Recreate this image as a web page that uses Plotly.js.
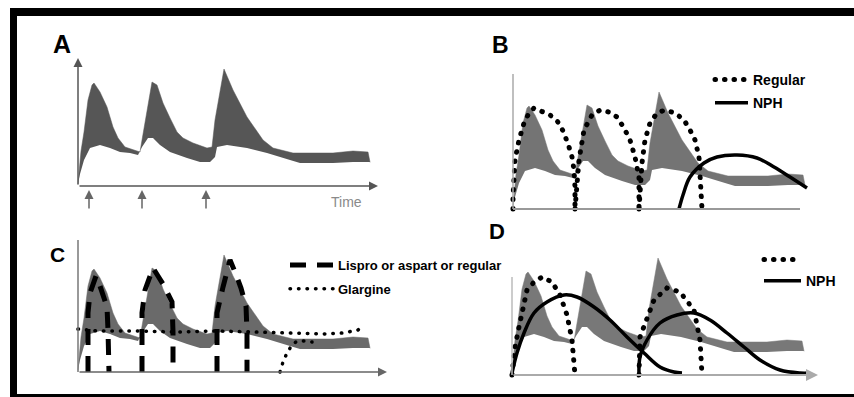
<!DOCTYPE html>
<html><head><meta charset="utf-8">
<script src="https://cdn.plot.ly/plotly-3.0.1.min.js"></script>
<style>
html,body{margin:0;padding:0;background:#fff;overflow:hidden}
#chart{width:854px;height:397px}
path.js-line[style*="0.5px"]{stroke-linecap:round}
</style>
</head><body><div id="chart"></div>
<script>
// ---- data (time units, glucose / insulin units) ----
const bandUpperX = [0, 1, 3, 6, 10, 14, 16, 22, 29, 35, 40, 47, 55, 62, 64, 69, 74, 79, 85, 92, 99, 105, 115, 129, 134, 137, 142, 146, 155, 169, 185, 195, 215, 255, 275, 290, 292];
const bandUpperY = [2, 15, 35, 54, 86, 101, 103, 94, 79, 59, 48, 39, 36, 34, 46, 76, 104, 101, 83, 68, 54, 48, 43, 38, 39, 66, 93, 117, 96, 69, 46, 38, 33, 33, 35, 34, 24];
const bandLowerX = [0, 2, 6, 12, 22, 32, 42, 52, 60, 64, 70, 75, 82, 92, 109, 122, 132, 137, 139, 149, 169, 189, 212, 222, 255, 275, 292];
const bandLowerY = [2, 12, 26, 38, 41, 38, 34, 33, 31, 39, 48, 48, 41, 34, 28, 24, 24, 29, 39, 41, 38, 33, 26, 23, 23, 24, 24];

const injectionTimes = [11, 64, 128];

const regularBX = [0, 0, 2, 6, 11, 16, 21, 29, 37, 46, 51, 56, 59, 61, 62, 62, null,
                   62, 66, 71, 79, 87, 96, 104, 111, 117, 122, 126, 126, null,
                   126, 129, 132, 137, 144, 152, 162, 171, 177, 182, 186, 187, 188, 189];
const regularBY = [0, 12, 49, 69, 86, 96, 101, 97, 94, 86, 76, 62, 52, 39, 22, 0, null,
                   0, 49, 79, 94, 99, 97, 92, 81, 69, 52, 32, 0, null,
                   0, 46, 69, 86, 96, 99, 96, 89, 79, 69, 52, 36, 16, 0];
const nphBX = [166, 170, 177, 191, 204, 224, 244, 261, 277, 294];
const nphBY = [0, 14, 32, 46, 52, 54, 51, 42, 32, 21];

const lisproCX = [10, 10, 12, 18, 22, 29, 30, 31, null,
                  64, 64, 67, 75, 80, 85, 94, 95, 95, null,
                  139, 139, 145, 152, 157, 163, 168, 169, 169];
const lisproCY = [0, 59, 79, 96, 86, 65, 42, 0, null,
                  0, 59, 82, 104, 96, 88, 70, 40, 0, null,
                  0, 59, 85, 112, 100, 84, 66, 40, 0];
const glargineCX = [0, 20, 60, 100, 140, 180, 205, 225, 245, 265, 280, 283, null,
                    202, 205, 209, 214, 219, 226, 234];
const glargineCY = [43, 41, 41, 40, 41, 40, 39, 38, 38, 39, 42, 45, null,
                    0, 10, 19, 27, 31, 31, 30];

const regularDX = [0, 3, 7, 12, 15, 22, 30, 40, 48, 55, 60, 63, null,
                   127, 128, 142, 155, 168, 182, 188, 190];
const regularDY = [0, 28, 48, 72, 85, 93, 98, 93, 80, 60, 35, 0, null,
                   0, 38, 75, 87, 83, 65, 35, 0];
const nphDX = [0, 5, 12, 22, 35, 52, 65, 82, 98, 115, 132, 148, 162, 170, null,
               127, 128, 135, 148, 165, 182, 198, 215, 232, 248, 268, 288, 298];
const nphDY = [2, 22, 42, 62, 73, 80, 78, 68, 55, 38, 22, 8, 3, 2, null,
               0, 18, 35, 52, 60, 62, 55, 42, 28, 15, 5, 2, 2];

// ---- layout helpers ----
const W = 854, H = 397;
function xax(ox, r) { return {domain: [(ox + r[0]) / W, (ox + r[1]) / W], range: r, visible: false, fixedrange: true}; }
function yax(oy, r) { return {domain: [1 - (oy - r[0]) / H, 1 - (oy - r[1]) / H], range: r, visible: false, fixedrange: true}; }

const panels = [
  {s: '',  ox: 78,  oy: 186, xr: [-15, 320], yr: [-30, 135], fill: '#565656'},
  {s: '2', ox: 513, oy: 209, xr: [-15, 320], yr: [-8, 140], fill: '#747474'},
  {s: '3', ox: 78,  oy: 372, xr: [-15, 320], yr: [-8, 140], fill: '#6a6a6a'},
  {s: '4', ox: 512, oy: 375, xr: [-15, 320], yr: [-8, 140], fill: '#787878'}
];

const traces = [];
const layout = {
  width: W, height: H, margin: {l: 0, r: 0, t: 0, b: 0},
  paper_bgcolor: '#fff', plot_bgcolor: 'rgba(0,0,0,0)',
  font: {family: 'Liberation Sans, Arial, sans-serif', color: '#000'},
  annotations: [], shapes: []
};

panels.forEach(p => {
  layout['xaxis' + p.s] = Object.assign(xax(p.ox, p.xr), {anchor: 'y' + p.s});
  layout['yaxis' + p.s] = Object.assign(yax(p.oy, p.yr), {anchor: 'x' + p.s});
  const xa = 'x' + p.s, ya = 'y' + p.s;
  traces.push({x: bandLowerX, y: bandLowerY, xaxis: xa, yaxis: ya, mode: 'lines',
    line: {width: 0, color: p.fill}, showlegend: false, hoverinfo: 'skip'});
  traces.push({x: bandUpperX, y: bandUpperY, xaxis: xa, yaxis: ya, mode: 'lines', fill: 'tonexty',
    fillcolor: p.fill, line: {width: 0.5, color: p.fill}, showlegend: false, hoverinfo: 'skip'});
});

// Panel B
traces.push({x: regularBX, y: regularBY, xaxis: 'x2', yaxis: 'y2', mode: 'lines', name: 'Regular',
  line: {color: '#000', width: 5, dash: '0.5px,9px'}, legend: 'legend', legendgroup: 'b1', connectgaps: false});
traces.push({x: nphBX, y: nphBY, xaxis: 'x2', yaxis: 'y2', mode: 'lines', name: 'NPH',
  line: {color: '#000', width: 3.5, shape: 'spline'}, legend: 'legend', legendgroup: 'b2'});
// Panel C
traces.push({x: lisproCX, y: lisproCY, xaxis: 'x3', yaxis: 'y3', mode: 'lines', name: 'Lispro or aspart or regular',
  line: {color: '#000', width: 5, dash: '16px,11px'}, legend: 'legend2', legendgroup: 'c1', connectgaps: false});
traces.push({x: glargineCX, y: glargineCY, xaxis: 'x3', yaxis: 'y3', mode: 'lines', name: 'Glargine',
  line: {color: '#000', width: 3.5, dash: '0.5px,8px'}, legend: 'legend2', legendgroup: 'c2', connectgaps: false});
// Panel D
traces.push({x: regularDX, y: regularDY, xaxis: 'x4', yaxis: 'y4', mode: 'lines', name: ' ',
  line: {color: '#000', width: 5, dash: '0.5px,9px'}, legend: 'legend3', legendgroup: 'd1', connectgaps: false});
traces.push({x: nphDX, y: nphDY, xaxis: 'x4', yaxis: 'y4', mode: 'lines', name: 'NPH',
  line: {color: '#000', width: 3.5, shape: 'spline'}, legend: 'legend3', legendgroup: 'd2', connectgaps: false});

const legFont = {family: 'Liberation Sans, Arial, sans-serif', size: 14, weight: 700, color: '#000'};
function leg(px, py, size, gap, iw) {
  return {x: px / W, y: 1 - py / H, xanchor: 'left', yanchor: 'top', bgcolor: 'rgba(0,0,0,0)',
    borderwidth: 0, font: Object.assign({}, legFont, {size: size}), traceorder: 'grouped',
    tracegroupgap: gap, itemwidth: iw};
}
layout.legend = leg(710, 64, 14, 2, 33);
layout.legend2 = leg(285, 250, 13, 4, 43);
layout.legend3 = leg(759, 244, 14, 0, 37);

// axis lines (arrows) per panel
function arrow(xa, ya, x0, y0, x1, y1, color, w, head) {
  return {xref: xa, yref: ya, axref: xa, ayref: ya, x: x1, y: y1, ax: x0, ay: y0, text: '',
    showarrow: true, arrowhead: head, arrowsize: 1.2, arrowwidth: w, arrowcolor: color};
}
function seg(xa, ya, x0, y0, x1, y1, color, w) {
  return {type: 'line', xref: xa, yref: ya, x0: x0, y0: y0, x1: x1, y1: y1, line: {color: color, width: w}};
}
layout.annotations.push(arrow('x', 'y', 0, 0, 0, 128, '#555', 1.5, 2));
layout.annotations.push(arrow('x', 'y', 0, 0, 300, 0, '#555', 1.5, 2));
layout.shapes.push(seg('x2', 'y2', 0, 0, 0, 135, '#aaa', 1.5));
layout.shapes.push(seg('x2', 'y2', 0, 0, 287, 0, '#999', 2));
layout.shapes.push(seg('x3', 'y3', 0, 0, 0, 132, '#777', 1.5));
layout.annotations.push(arrow('x3', 'y3', 0, 0, 309, 0, '#666', 1.5, 2));
layout.shapes.push(seg('x4', 'y4', 0, 0, 0, 98, '#bbb', 1.5));
layout.annotations.push(arrow('x4', 'y4', 0, 0, 306, 0, '#aaa', 2, 2));

// injection arrows
injectionTimes.forEach(t => {
  layout.annotations.push(arrow('x', 'y', t, -24, t, -4, '#666', 1.5, 2));
});
layout.annotations.push({xref: 'x', yref: 'y', x: 268, y: -16, text: 'Time', showarrow: false,
  font: {size: 14, color: '#8a8a8a'}});

// panel letters
[['A', 62, 44, 25], ['B', 500, 45, 23], ['C', 57, 254, 21], ['D', 497, 231, 22]].forEach(l => {
  layout.annotations.push({xref: 'paper', yref: 'paper', x: l[1] / W, y: 1 - l[2] / H, text: '<b>' + l[0] + '</b>',
    showarrow: false, xanchor: 'center', yanchor: 'middle', font: {size: l[3], color: '#000'}});
});

Plotly.newPlot('chart', traces, layout, {displayModeBar: false, staticPlot: true});
</script>
<div style="position:absolute;left:10px;top:8px;width:844px;height:8px;background:#000"></div>
<div style="position:absolute;left:10px;top:8px;width:7px;height:389px;background:#000"></div>
<div style="position:absolute;left:10px;top:394px;width:844px;height:3px;background:#000"></div>
</body></html>
